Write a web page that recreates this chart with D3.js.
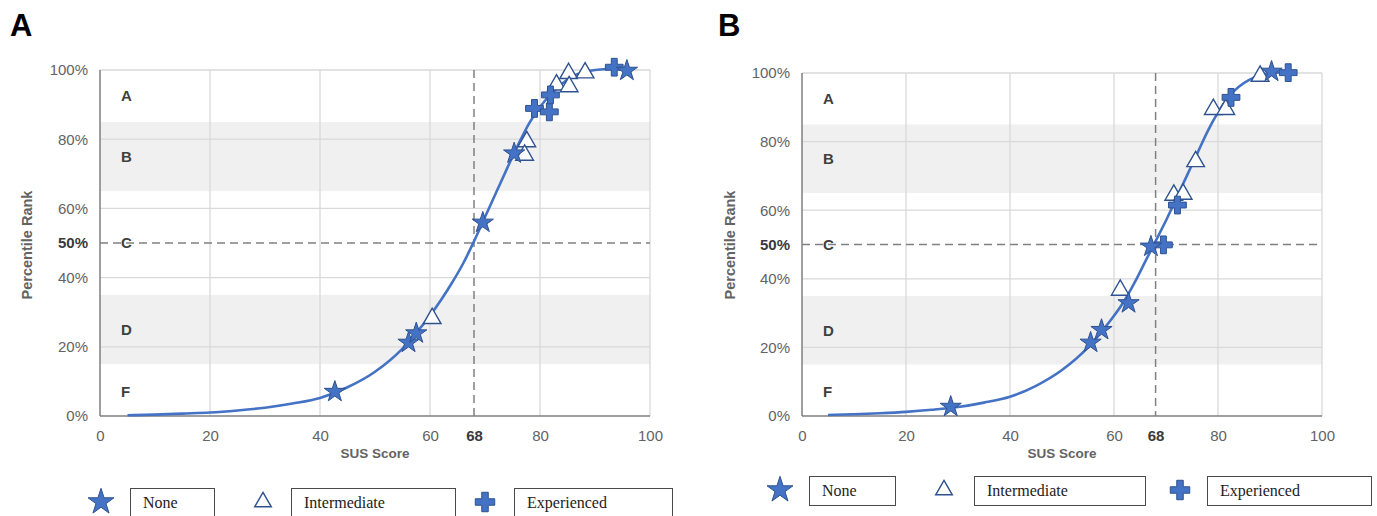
<!DOCTYPE html>
<html>
<head>
<meta charset="utf-8">
<script src="https://cdn.jsdelivr.net/npm/d3@7"></script>
<style>
body { margin:0; background:#fff; }
svg { display:block; }
</style>
</head>
<body>
<svg id="chart" width="1377" height="516"></svg>
<script>

// curve + points

var curveA_x = [5,10,15,20,25,30,35,40,45,50,55,58,60,62,64,66,68,70,72,74,76,78,80,82,84,86,88,90,93,96]
var curveA_y = [0.2,0.4,0.7,1.0,1.6,2.4,3.6,5.2,8.3,12.8,19.5,25,29,33.5,38.5,44,50.5,57.5,64.5,71.5,78.3,84.5,89.3,93,96,98.2,99.4,100,100.3,100.3]

var curveB_x = [5,10,15,20,25,30,35,40,45,50,55,58,60,62,64,66,68,70,72,74,76,78,80,82,84,86,88,90,93.5]
var curveB_y = [0.3,0.5,0.8,1.2,1.8,2.6,3.9,5.6,8.8,13.4,20,25.3,29.2,33.6,39,45,51,57,63.5,70,76.5,83,88.5,93,96,98,99.3,100,100.2]

var noneA_x = [42.7,56.1,57.5,69.6,75.3,95.8]
var noneA_y = [7.0,21.2,23.9,55.9,75.9,99.8]
var interA_x = [60.4,77.6,77.2,83.0,85.2,85.3,88.2]
var interA_y = [28.2,79.3,75.4,95.7,99.0,95.2,99.2]
var expA_x = [79.0,81.7,81.9,93.5]
var expA_y = [88.9,87.9,92.8,100.8]

var noneB_x = [28.6,55.5,57.6,62.8,67.1,90.3]
var noneB_y = [2.7,21.4,25.1,32.9,49.4,100.4]
var interB_x = [61.2,71.5,73.3,75.7,79.1,81.5,88.1]
var interB_y = [36.7,64.4,64.7,74.2,89.4,89.4,99.1]
var expB_x = [69.5,72.2,82.5,93.5]
var expB_y = [49.9,61.5,92.9,100.1]

var xTicks = [0,20,40,60,68,80,100]
var yTicks = [0,20,40,50,60,80,100]
var gridValues = [20,40,60,80,100]
var bands = [[15,35],[65,85]]
var grades = ["A","B","C","D","F"]
var gradeY = [92.5,75,50,25,7]
var legendNames = ["None","Intermediate","Experienced"]

var blue = "#4472C4"
var darkBlue = "#2F528F"

var svg = d3.select("#chart")

var zip = function(xs, ys)
{
    return xs.map(function(d, i) { return {x: d, y: ys[i]} })
}

var symbolType = {None: d3.symbolStar, Intermediate: d3.symbolTriangle, Experienced: d3.symbolCross}
var markSize = {None: 140, Intermediate: 135, Experienced: 175}
var legendSize = {None: 210, Intermediate: 120, Experienced: 210}

var styleMarker = function(sel, name)
{
    if (name == "Intermediate")
    {
        sel.attr("fill", "white").attr("stroke", darkBlue).attr("stroke-width", 1.4)
    }
    else
    {
        sel.attr("fill", blue).attr("stroke", darkBlue).attr("stroke-width", 1)
    }
}

var drawPanel = function(p)
{
    var xScale = d3.scaleLinear().domain([0,100]).range([p.left, p.right])
    var yScale = d3.scaleLinear().domain([0,100]).range([p.bottom, p.top])

    var g = svg.append("g")

    // panel letter
    g.append("text")
        .text(p.letter)
        .attr("x", p.letterX)
        .attr("y", 36)
        .attr("font-family", "Liberation Sans, Arial, sans-serif")
        .attr("font-weight", "bold")
        .attr("font-size", 31)
        .attr("fill", "#000")

    // grey bands
    g.selectAll(".band")
        .data(bands)
        .enter()
        .append("rect")
        .attr("x", p.left)
        .attr("width", p.right - p.left)
        .attr("y", function(d) { return yScale(d[1]) })
        .attr("height", function(d) { return yScale(d[0]) - yScale(d[1]) })
        .attr("fill", "#f0f0f0")

    // grid
    g.selectAll(".hgrid")
        .data(gridValues)
        .enter()
        .append("line")
        .attr("x1", p.left).attr("x2", p.right)
        .attr("y1", function(d) { return yScale(d) })
        .attr("y2", function(d) { return yScale(d) })
        .attr("stroke", "#d9d9d9").attr("stroke-width", 1.3)

    g.selectAll(".vgrid")
        .data(gridValues)
        .enter()
        .append("line")
        .attr("y1", p.top).attr("y2", p.bottom)
        .attr("x1", function(d) { return xScale(d) })
        .attr("x2", function(d) { return xScale(d) })
        .attr("stroke", "#d9d9d9").attr("stroke-width", 1.3)

    // axes
    var yAxis = d3.axisLeft(yScale)
        .tickValues(yTicks)
        .tickSize(0)
        .tickPadding(12)
        .tickFormat(function(d) { return d + "%" })

    var xAxis = d3.axisBottom(xScale)
        .tickValues(xTicks)
        .tickSize(0)
        .tickPadding(14)

    var ya = g.append("g")
        .attr("transform", "translate(" + p.left + ",0)")
        .call(yAxis)
    var xa = g.append("g")
        .attr("transform", "translate(0," + p.bottom + ")")
        .call(xAxis)

    ;[ya, xa].forEach(function(a)
    {
        a.select(".domain").attr("stroke", "#7f7f7f").attr("stroke-width", 1.5)
        a.selectAll("text")
            .attr("font-family", "Liberation Sans, Arial, sans-serif")
            .attr("font-size", 15)
            .attr("fill", "#636363")
    })
    ya.select(".domain").attr("d", "M0," + p.top + "V" + p.bottom)
    xa.select(".domain").attr("d", "M" + p.left + ",0H" + p.right)

    ya.selectAll(".tick text")
        .filter(function(d) { return d == 50 })
        .attr("font-weight", "bold").attr("fill", "#3a3a3a")
    xa.selectAll(".tick text")
        .filter(function(d) { return d == 68 })
        .attr("font-weight", "bold").attr("fill", "#3a3a3a")

    // dashed reference lines
    g.append("line")
        .attr("x1", p.left).attr("x2", p.right)
        .attr("y1", yScale(50)).attr("y2", yScale(50))
        .attr("stroke", "#808080").attr("stroke-width", 1.5)
        .attr("stroke-dasharray", "8,5")
    g.append("line")
        .attr("x1", xScale(68)).attr("x2", xScale(68))
        .attr("y1", p.top).attr("y2", p.bottom)
        .attr("stroke", "#808080").attr("stroke-width", 1.5)
        .attr("stroke-dasharray", "8,5")

    // grade letters
    g.selectAll(".grade")
        .data(grades)
        .enter()
        .append("text")
        .text(function(d) { return d })
        .attr("x", p.left + 21)
        .attr("y", function(d, i) { return yScale(gradeY[i]) })
        .attr("dy", "0.35em")
        .attr("font-family", "Liberation Sans, Arial, sans-serif")
        .attr("font-weight", "bold")
        .attr("font-size", 15)
        .attr("fill", "#3f3f3f")

    // axis titles
    g.append("text")
        .text("SUS Score")
        .attr("x", (p.left + p.right) / 2)
        .attr("y", 458)
        .attr("text-anchor", "middle")
        .attr("font-family", "Liberation Sans, Arial, sans-serif")
        .attr("font-weight", "bold")
        .attr("font-size", 13.5)
        .attr("fill", "#636363")

    g.append("g")
        .attr("transform", "translate(" + p.yTitleX + ",245)")
        .append("text")
        .text("Percentile Rank")
        .attr("transform", "rotate(270)")
        .attr("text-anchor", "middle")
        .attr("font-family", "Liberation Sans, Arial, sans-serif")
        .attr("font-weight", "bold")
        .attr("font-size", 14.5)
        .attr("fill", "#636363")

    // fitted curve
    var line = d3.line()
        .x(function(d) { return xScale(d.x) })
        .y(function(d) { return yScale(d.y) })
        .curve(d3.curveMonotoneX)

    g.append("path")
        .datum(p.curve)
        .attr("d", line)
        .attr("fill", "none")
        .attr("stroke", blue)
        .attr("stroke-width", 2.6)

    // markers
    p.series.forEach(function(s)
    {
        var m = g.selectAll(".m" + s.name)
            .data(s.points)
            .enter()
            .append("path")
            .attr("d", d3.symbol().type(symbolType[s.name]).size(markSize[s.name]))
            .attr("transform", function(d) { return "translate(" + xScale(d.x) + "," + yScale(d.y) + ")" })
        styleMarker(m, s.name)
    })

    // legend
    var leg = g.selectAll(".legend")
        .data(legendNames)
        .enter()
        .append("g")

    leg.append("path")
        .attr("d", function(d) { return d3.symbol().type(symbolType[d]).size(legendSize[d])() })
        .attr("transform", function(d, i) { return "translate(" + p.legSym[i] + "," + p.legY + ")" })
        .each(function(d) { styleMarker(d3.select(this), d) })

    leg.append("rect")
        .attr("x", function(d, i) { return p.legBox[i][0] + 0.5 })
        .attr("y", p.legY - 13.5)
        .attr("width", function(d, i) { return p.legBox[i][1] - p.legBox[i][0] })
        .attr("height", 29)
        .attr("fill", "white")
        .attr("stroke", "#4a4a4a")
        .attr("stroke-width", 1)

    leg.append("text")
        .text(function(d) { return d })
        .attr("x", function(d, i) { return p.legBox[i][0] + 13 })
        .attr("y", p.legY + 6)
        .attr("font-family", "Liberation Serif, Times New Roman, serif")
        .attr("font-size", 16)
        .attr("fill", "#222")
}

drawPanel({
    letter: "A", letterX: 10, yTitleX: 32,
    left: 100, right: 650, top: 70, bottom: 416,
    curve: zip(curveA_x, curveA_y),
    series: [
        {name: "Intermediate", points: zip(interA_x, interA_y)},
        {name: "Experienced", points: zip(expA_x, expA_y)},
        {name: "None", points: zip(noneA_x, noneA_y)}
    ],
    legY: 502, legSym: [101, 263, 485],
    legBox: [[130,214],[291,455],[514,672]]
})

drawPanel({
    letter: "B", letterX: 718, yTitleX: 735,
    left: 802, right: 1322, top: 73, bottom: 416,
    curve: zip(curveB_x, curveB_y),
    series: [
        {name: "Intermediate", points: zip(interB_x, interB_y)},
        {name: "Experienced", points: zip(expB_x, expB_y)},
        {name: "None", points: zip(noneB_x, noneB_y)}
    ],
    legY: 490, legSym: [780, 944, 1180],
    legBox: [[809,895],[974,1145],[1207,1371]]
})

</script>
</body>
</html>
